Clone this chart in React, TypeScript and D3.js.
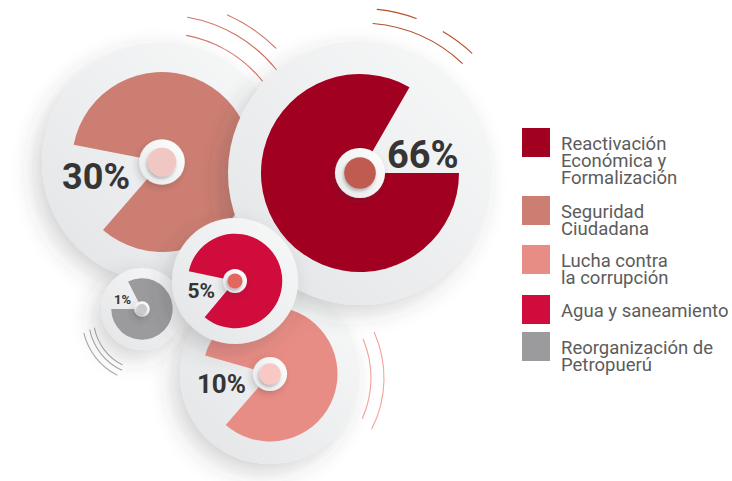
import React from "react";
import * as d3 from "d3";

// ---- data ----
const categories = [
  "Reactivación Económica y Formalización",
  "Seguridad Ciudadana",
  "Lucha contra la corrupción",
  "Agua y saneamiento",
  "Reorganización de Petropuerú",
];
const legendLines = [
  ["Reactivación", "Económica y", "Formalización"],
  ["Seguridad", "Ciudadana"],
  ["Lucha contra", "la corrupción"],
  ["Agua y saneamiento"],
  ["Reorganización de", "Petropuerú"],
];
const values = [66, 30, 10, 5, 1];
const sectorColors = ["#a20021", "#cd7e72", "#e88d85", "#d00c3c", "#9b9b9d"];
const dotColors = ["#bf5b50", "#f1c7c3", "#f8c9c4", "#e2675f", "#c9c9cb"];

// ---- layout (positions / sizes) ----
const disks = [
  { cx: 360, cy: 173, R: 132, gap: [30, 90], ldx: 27, ldy: -5, anchor: "start", size: 38 },
  { cx: 162, cy: 162, R: 120, gap: [221, 281], ldx: -32, ldy: 27, anchor: "end", size: 36 },
  { cx: 270, cy: 374, R: 90, gap: [221, 286], ldx: -24, ldy: 19, anchor: "end", size: 26 },
  { cx: 235, cy: 281, R: 63, gap: [220, 282], ldx: -20, ldy: 17, anchor: "end", size: 21 },
  { cx: 142, cy: 309, R: 41, gap: [270, 333], ldx: -11, ldy: -5, anchor: "end", size: 13 },
];
const drawOrder = [1, 2, 0, 4, 3];
const decoArcs = [
  { cx: 162, cy: 162, r: 147, a0: 10, a1: 51, color: "#d07366" },
  { cx: 162, cy: 162, r: 161, a0: 24, a1: 45, color: "#d07366" },
  { cx: 162, cy: 162, r: 129, a0: 11, a1: 51, color: "#d07366" },
  { cx: 360, cy: 173, r: 164.5, a0: 6, a1: 20, color: "#b4502b" },
  { cx: 360, cy: 173, r: 150, a0: 5, a1: 43, color: "#b4502b" },
  { cx: 360, cy: 173, r: 164, a0: 30.5, a1: 43, color: "#b4502b" },
  { cx: 146, cy: 318, r: 64, a0: 207, a1: 256, color: "#aaaaaa" },
  { cx: 146, cy: 318, r: 57.5, a0: 205, a1: 258, color: "#aaaaaa" },
  { cx: 146, cy: 318, r: 52.5, a0: 207, a1: 259, color: "#aaaaaa" },
  { cx: 272, cy: 378, r: 99, a0: 67, a1: 114, color: "#f2a39b" },
  { cx: 272, cy: 378, r: 112, a0: 66, a1: 117, color: "#f2a39b" },
];
const legendTops = [128, 196, 245, 295, 332];

const rad = (deg: number) => (deg * Math.PI) / 180;

export default function App() {
  const sectorArc = d3.arc<any>();
  return (
    <svg
      width={732}
      height={481}
      style={{ position: "absolute", left: 0, top: 0, background: "#fff" }}
      fontFamily="Roboto, sans-serif"
    >
      <defs>
        <linearGradient id="diskGrad" x1="1" y1="0" x2="0" y2="1">
          <stop offset="0" stopColor="#f8f9f9" />
          <stop offset="1" stopColor="#e3e4e6" />
        </linearGradient>
        <linearGradient id="ringGrad" x1="1" y1="0" x2="0" y2="1">
          <stop offset="0" stopColor="#ffffff" />
          <stop offset="1" stopColor="#e6e7e9" />
        </linearGradient>
        <filter id="diskShadow" x="-40%" y="-40%" width="180%" height="180%">
          <feDropShadow dx={-8} dy={9} stdDeviation={11} floodColor="#404040" floodOpacity={0.22} />
        </filter>
        <filter id="ringShadow" x="-50%" y="-50%" width="200%" height="200%">
          <feDropShadow dx={-2} dy={3} stdDeviation={3} floodColor="#303030" floodOpacity={0.22} />
        </filter>
        <filter id="dotShadow" x="-50%" y="-50%" width="200%" height="200%">
          <feDropShadow dx={-1} dy={2} stdDeviation={1.5} floodColor="#202020" floodOpacity={0.3} />
        </filter>
      </defs>

      {decoArcs.map((a, i) => {
        const p = d3.path();
        p.arc(a.cx, a.cy, a.r, rad(a.a0 - 90), rad(a.a1 - 90));
        return (
          <path key={"deco" + i} d={p.toString()} fill="none" stroke={a.color} strokeWidth={1.1} strokeLinecap="round" />
        );
      })}

      {drawOrder.map((i) => {
        const d = disks[i];
        const rs = d.R * 0.75;
        const ring = d.R * 0.19;
        const dot = ring * 0.63;
        const start = rad(d.gap[1]);
        const end = rad(d.gap[0] + 360);
        return (
          <g key={"disk" + i} transform={`translate(${d.cx},${d.cy})`}>
            <circle r={d.R} fill="url(#diskGrad)" filter="url(#diskShadow)" />
            <path
              d={sectorArc({ innerRadius: 0, outerRadius: rs, startAngle: start, endAngle: end }) || ""}
              fill={sectorColors[i]}
            />
            <circle r={ring} fill="url(#ringGrad)" filter="url(#ringShadow)" />
            <circle r={dot} fill={dotColors[i]} filter="url(#dotShadow)" />
            <text
              x={d.ldx}
              y={d.ldy}
              textAnchor={d.anchor}
              fontSize={d.size}
              fontWeight={700}
              fill="#353535"
            >
              {values[i]}%
            </text>
          </g>
        );
      })}

      {categories.map((c, i) => (
        <g key={"leg" + i} transform={`translate(522,${legendTops[i]})`}>
          <rect width={28} height={29} fill={sectorColors[i]} />
          <text x={39} y={0} fontSize={18.5} fill="#5c5c5c">
            {legendLines[i].map((ln, j) => (
              <tspan key={j} x={39} y={22 + j * 17}>
                {ln}
              </tspan>
            ))}
          </text>
        </g>
      ))}
    </svg>
  );
}
